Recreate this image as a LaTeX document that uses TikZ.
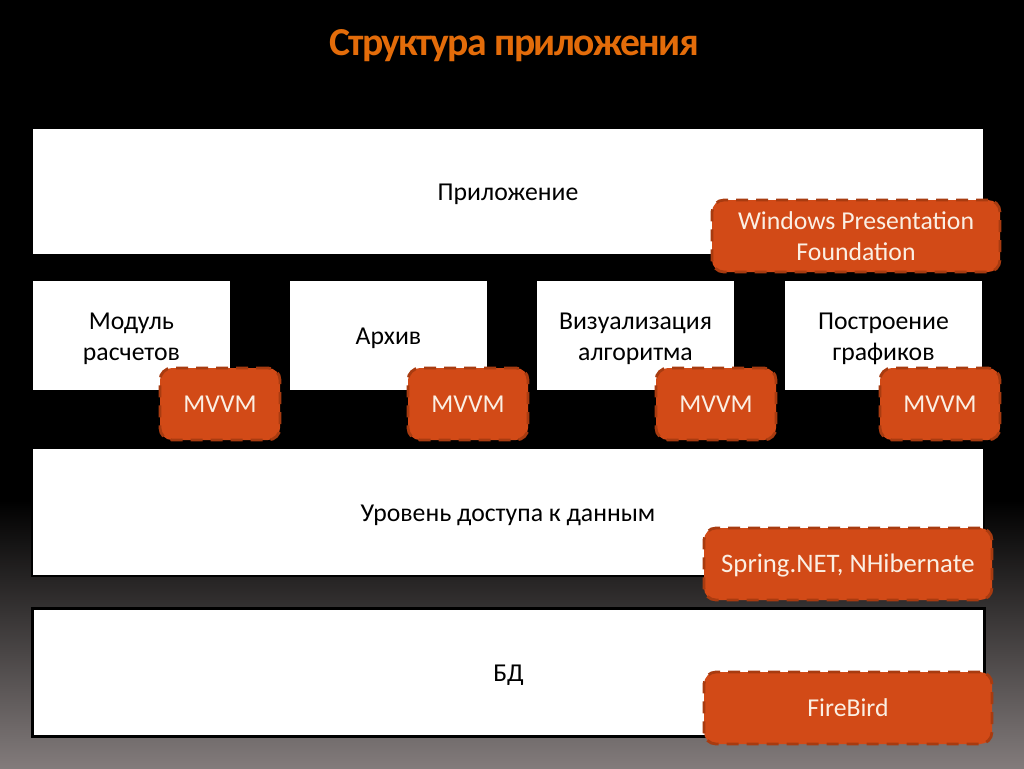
\documentclass[tikz,border=0pt]{standalone}
\usepackage{fontspec}
\setmainfont{Carlito}
\newfontfamily\titlefont[LetterSpace=-4]{Carlito}
\definecolor{rust}{HTML}{D24A17}
\definecolor{rustline}{HTML}{A83B10}
\definecolor{cream}{HTML}{FBEFE3}
\definecolor{titlecol}{HTML}{E36C0A}
\definecolor{bottomgray}{HTML}{827B7B}
\newcommand{\lowered}{\rule{0pt}{16pt}}
\begin{document}
\begin{tikzpicture}[x=.25mm, y=-.25mm]

\tikzstyle{plain} = [rectangle, fill=white, inner sep=0pt, align=center, text=black, font=\fontsize{18.3}{22}\selectfont]
\tikzstyle{framed} = [plain, draw=black, line width=.6mm]
\tikzstyle{tech} = [rectangle, rounded corners=3mm, fill=rust, draw=rustline, line width=.7mm, dash pattern=on 3mm off 2mm, inner sep=0pt, align=center, text=cream, font=\fontsize{18.3}{22}\selectfont]
\tikzstyle{mvvm} = [tech, minimum width=30mm, minimum height=18mm]
\tikzstyle{wide} = [tech, minimum width=72mm, minimum height=18mm]
\tikzstyle{module} = [plain, minimum width=49.25mm, minimum height=27.25mm]

\useasboundingbox (0,0) rectangle (1024,768);
\fill[black] (0,0) rectangle (1024,500);
\shade[top color=black, bottom color=bottomgray] (0,500) rectangle (1024,768);

\node[text=titlecol, font=\titlefont\fontsize{28.2}{30}\selectfont\bfseries] (title) at (514,46) {Структура приложения};

\node[plain, minimum width=237.5mm, minimum height=31.25mm] (app) at (508,191.5) {\lowered Приложение};

\node[module] (calc) at (131.5,335.5) {\lowered Модуль\\расчетов};
\node[module] (arch) at (388.5,335.5) {\lowered Архив};
\node[module] (vis) at (635.5,335.5) {\lowered Визуализация\\алгоритма};
\node[module] (plot) at (883.5,335.5) {\lowered Построение\\графиков};

\node[framed, minimum width=238mm, minimum height=32mm] (dal) at (508,512) {\lowered Уровень доступа к данным};
\node[framed, line width=.75mm, minimum width=238mm, minimum height=32mm] (db) at (508.5,672.5) {\lowered БД};

\node[wide] (wpf) at (856,236) {Windows Presentation\\Foundation};
\node[mvvm] (m1) at (220,404) {MVVM};
\node[mvvm] (m2) at (468,404) {MVVM};
\node[mvvm] (m3) at (716,404) {MVVM};
\node[mvvm] (m4) at (940,404) {MVVM};
\node[wide, font=\fontsize{19}{22}\selectfont] (orm) at (848,564) {\lowered Spring.NET, NHibernate};
\node[wide] (fb) at (848,708) {FireBird};
\end{tikzpicture}
\end{document}
